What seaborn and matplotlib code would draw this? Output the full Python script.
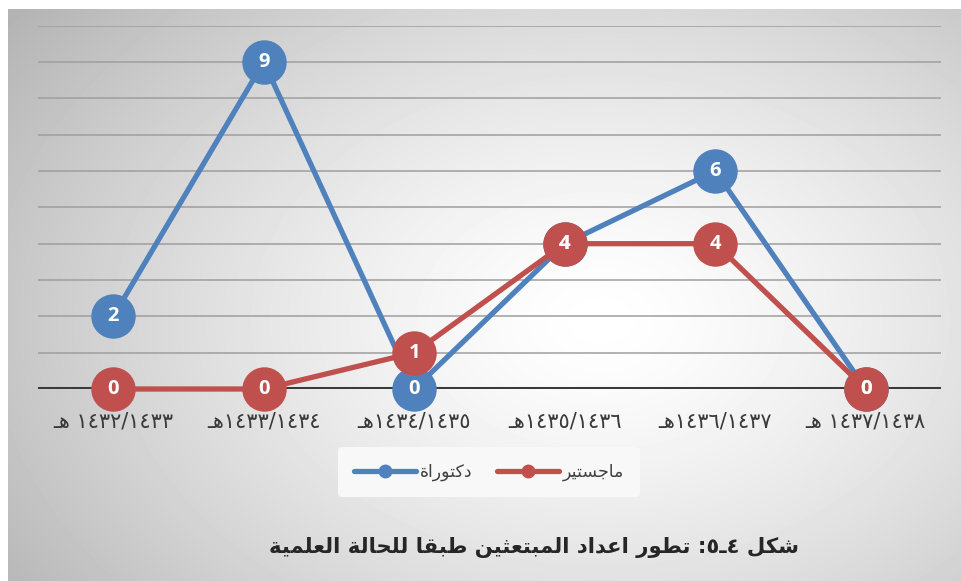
import numpy as np
import pandas as pd
import matplotlib
matplotlib.use("Agg")
import matplotlib.pyplot as plt
from matplotlib.lines import Line2D
import seaborn as sns

# ---------------- data ----------------
periods = ["١٤٣٢/١٤٣٣ هـ", "١٤٣٣/١٤٣٤هـ", "١٤٣٤/١٤٣٥هـ",
           "١٤٣٥/١٤٣٦هـ", "١٤٣٦/١٤٣٧هـ", "١٤٣٧/١٤٣٨ هـ"]
series_names = ["دكتوراة", "ماجستير"]
doctorate = [2, 9, 0, 4, 6, 0]
masters = [0, 0, 1, 4, 4, 0]
title_text = "شكل ٤ـ٥: تطور اعداد المبتعثين طبقا للحالة العلمية"

# ---------------- minimal Arabic shaping + visual ordering ----------------
DUAL = {'ب': 0xFE8F, 'ت': 0xFE95, 'ث': 0xFE99, 'ج': 0xFE9D, 'ح': 0xFEA1, 'خ': 0xFEA5,
        'س': 0xFEB1, 'ش': 0xFEB5, 'ص': 0xFEB9, 'ض': 0xFEBD, 'ط': 0xFEC1, 'ظ': 0xFEC5,
        'ع': 0xFEC9, 'غ': 0xFECD, 'ف': 0xFED1, 'ق': 0xFED5, 'ك': 0xFED9, 'ل': 0xFEDD,
        'م': 0xFEE1, 'ن': 0xFEE5, 'ه': 0xFEE9, 'ي': 0xFEF1, 'ئ': 0xFE89}
RIGHT = {'ا': 0xFE8D, 'أ': 0xFE83, 'إ': 0xFE87, 'آ': 0xFE81, 'د': 0xFEA9, 'ذ': 0xFEAB,
         'ر': 0xFEAD, 'ز': 0xFEAF, 'و': 0xFEED, 'ة': 0xFE93, 'ى': 0xFEEF, 'ؤ': 0xFE85}
TATWEEL = 'ـ'


def _fwd(c):
    return c in DUAL or c == TATWEEL


def _joinable(c):
    return c in DUAL or c in RIGHT or c == TATWEEL


def shape(s):
    out = []
    n = len(s)
    for i, c in enumerate(s):
        prev = s[i - 1] if i > 0 else ''
        nxt = s[i + 1] if i + 1 < n else ''
        if c in DUAL:
            jp, jn = _fwd(prev), _joinable(nxt)
            off = 3 if (jp and jn) else 1 if jp else 2 if jn else 0
            out.append(chr(DUAL[c] + off))
        elif c in RIGHT:
            out.append(chr(RIGHT[c] + (1 if _fwd(prev) else 0)))
        else:
            out.append(c)
    return ''.join(out)


def visual(s):
    s = shape(s)
    digits = set('٠١٢٣٤٥٦٧٨٩0123456789')
    units, i = [], 0
    while i < len(s):
        if s[i] in digits:
            j = i
            while j < len(s) and (s[j] in digits or
                                  (s[j] in '/.,' and j + 1 < len(s) and s[j + 1] in digits)):
                j += 1
            units.append(s[i:j])
            i = j
        else:
            units.append(s[i])
            i += 1
    return ''.join(reversed(units))


# ---------------- figure ----------------
sns.set_theme(style="white")
plt.rcParams['font.family'] = ['DejaVu Sans']

W, H = 962, 581
fig = plt.figure(figsize=(W / 100, H / 100), dpi=100)

# background gradient
bg = fig.add_axes([0, 0, 1, 1])
yy, xx = np.mgrid[0:H, 0:W]
d = np.sqrt(((xx - 600) / 600.0) ** 2 + ((yy - 320) / 420.0) ** 2)
img = 1 - 0.225 * np.minimum(d, 1.3) ** 1.4
img[:, :8] = 1.0
img[:9, :] = 1.0
bg.imshow(img, cmap='gray', vmin=0, vmax=1, aspect='auto', extent=[0, W, H, 0],
          interpolation='bilinear')
bg.set_xlim(0, W)
bg.set_ylim(H, 0)
bg.axis('off')

ax = fig.add_axes([38 / W, 1 - 389 / H, 903 / W, (389 - 25.7) / H])
ax.set_facecolor('none')

labels_vis = [visual(p) for p in periods]
names_vis = [visual(n) for n in series_names]
df = pd.DataFrame({
    'period': labels_vis * 2,
    'value': doctorate + masters,
    'series': [names_vis[0]] * len(periods) + [names_vis[1]] * len(periods),
})
blue, red = '#4f81bd', '#c0504d'
palette = {names_vis[0]: blue, names_vis[1]: red}

sns.lineplot(data=df, x='period', y='value', hue='series', hue_order=names_vis,
             palette=palette, marker='o', markersize=32, markeredgewidth=0,
             linewidth=3.8, sort=False, legend=False, ax=ax, zorder=3)
for ln in ax.lines:
    ln.set_clip_on(False)

for i, v in enumerate(doctorate):
    ax.text(i, v, str(v), ha='center', va='center', color='white', fontsize=14.5,
            fontweight='bold', family='Open Sans', zorder=6)
for i, v in enumerate(masters):
    ax.text(i, v, str(v), ha='center', va='center', color='white', fontsize=14.5,
            fontweight='bold', family='Open Sans', zorder=7)

ax.set_xlim(-0.5, len(periods) - 0.5)
ax.set_ylim(0, 10)
ax.set_yticks(range(0, 11))
ax.set_yticklabels([])
ax.grid(axis='y', color='#9e9e9e', linewidth=1.1)
ax.grid(axis='x', visible=False)
ax.axhline(0, color='#3a3a3a', linewidth=2.9, zorder=2)
ax.set_xticks(range(len(periods)))
ax.set_xticklabels(labels_vis, fontsize=15, color='#3a3a3a')
ax.tick_params(axis='both', length=0, pad=16)
ax.set_xlabel('')
ax.set_ylabel('')
for sp in ax.spines.values():
    sp.set_visible(False)

handles = [Line2D([], [], color=blue, lw=3.8, marker='o', markersize=9),
           Line2D([], [], color=red, lw=3.8, marker='o', markersize=9)]
leg = fig.legend(handles, names_vis, loc='center', bbox_to_anchor=(489 / W, 1 - 472 / H),
                 ncol=2, frameon=True, fontsize=12.5, handlelength=3.6, handletextpad=0.2,
                 columnspacing=1.4, borderpad=0.9)
leg.get_frame().set_facecolor('#f8f8f8')
leg.get_frame().set_edgecolor('none')
leg.get_frame().set_alpha(1)
for t in leg.get_texts():
    t.set_color('#404040')

fig.text(534 / W, 1 - 548 / H, visual(title_text), ha='center', va='center',
         fontsize=15.3, fontweight='bold', color='#262626')

fig.savefig('out.png', dpi=100)
